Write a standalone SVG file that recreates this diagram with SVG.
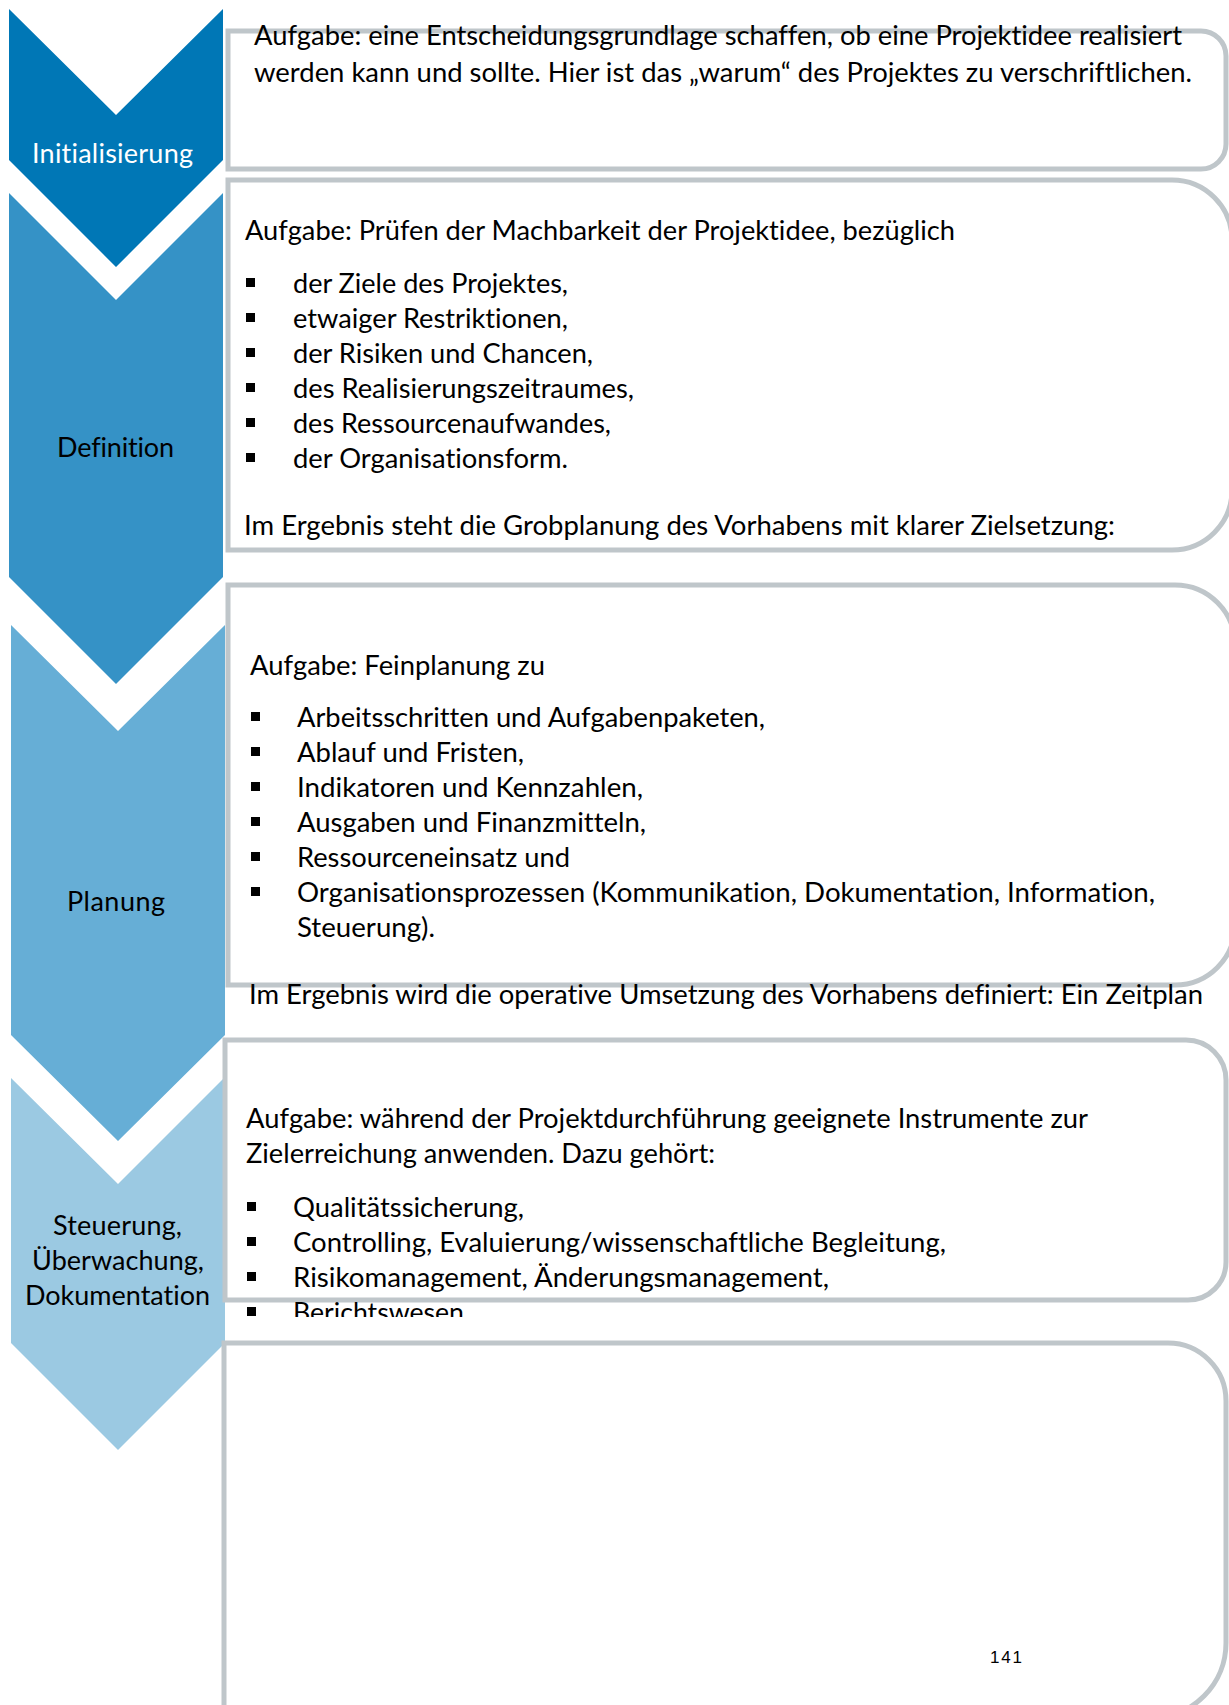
<svg xmlns="http://www.w3.org/2000/svg" width="1229" height="1705" viewBox="0 0 1229 1705">
  <style>
    .box { fill: #ffffff; stroke: #bfc6ca; stroke-width: 5; }
    .txt { font-family: Lato, "Open Sans", sans-serif; font-size: 26px; fill: #000000; font-variant-ligatures: none; }
    .lbl { font-family: Lato, "Open Sans", sans-serif; font-size: 27px; fill: #000000; text-anchor: middle; font-variant-ligatures: none; }
    .lbl-w { fill: #ffffff; }
    .bul { fill: #000000; }
    .pg { font-family: "Liberation Sans", Arial, sans-serif; font-size: 17px; fill: #000000; }
  </style>
  <defs>
    <clipPath id="clip-def"><rect x="0" y="0" width="1229" height="553"/></clipPath>
    <clipPath id="clip-steu"><rect x="0" y="0" width="1229" height="1317"/></clipPath>
  </defs>
  <rect width="1229" height="1705" fill="#ffffff"/>

  <!-- phase chevrons -->
  <g id="phase-initialisierung">
    <polygon points="9,9 116,115 223,9 223,160 116,267 9,160" fill="#0077b6"/>
    <text class="lbl lbl-w" x="112.5" y="163" textLength="161">Initialisierung</text>
  </g>
  <g id="phase-definition">
    <polygon points="9,193 116,300 223,193 223,577 116,684 9,577" fill="#3592c6"/>
    <text class="lbl" x="115.5" y="457" textLength="117">Definition</text>
  </g>
  <g id="phase-planung">
    <polygon points="11,625 118,731 225,625 225,1035 118,1141 11,1035" fill="#66aed6"/>
    <text class="lbl" x="116" y="911" textLength="98">Planung</text>
  </g>
  <g id="phase-steuerung">
    <polygon points="11,1078 118,1184 225,1077 225,1343 118,1450 11,1343" fill="#9bc9e2"/>
    <text class="lbl" x="117.5" y="1235" textLength="129">Steuerung,</text>
    <text class="lbl" x="118" y="1270" textLength="172">Überwachung,</text>
    <text class="lbl" x="117.5" y="1305" textLength="185">Dokumentation</text>
  </g>

  <!-- description boxes -->
  <g id="box-initialisierung">
    <path class="box" d="M228,31 H1201 A25,25 0 0 1 1226,56 V144 A25,25 0 0 1 1201,169 H228 Z"/>
    <text class="txt" x="254" y="45" textLength="928" lengthAdjust="spacingAndGlyphs">Aufgabe: eine Entscheidungsgrundlage schaffen, ob eine Projektidee realisiert</text>
    <text class="txt" x="254" y="82" textLength="938" lengthAdjust="spacingAndGlyphs">werden kann und sollte. Hier ist das „warum“ des Projektes zu verschriftlichen.</text>
  </g>

  <g id="box-definition">
    <path class="box" d="M228,180 H1172 A60,60 0 0 1 1232,240 V490 A60,60 0 0 1 1172,550 H228 Z"/>
    <g clip-path="url(#clip-def)">
      <text class="txt" x="245" y="240" textLength="710" lengthAdjust="spacingAndGlyphs">Aufgabe: Prüfen der Machbarkeit der Projektidee, bezüglich</text>
      <rect class="bul" x="246" y="278" width="9" height="9"/>
      <text class="txt" x="293" y="293" textLength="275" lengthAdjust="spacingAndGlyphs">der Ziele des Projektes,</text>
      <rect class="bul" x="246" y="313" width="9" height="9"/>
      <text class="txt" x="293" y="328" textLength="275" lengthAdjust="spacingAndGlyphs">etwaiger Restriktionen,</text>
      <rect class="bul" x="246" y="348" width="9" height="9"/>
      <text class="txt" x="293" y="363" textLength="300" lengthAdjust="spacingAndGlyphs">der Risiken und Chancen,</text>
      <rect class="bul" x="246" y="383" width="9" height="9"/>
      <text class="txt" x="293" y="398" textLength="341" lengthAdjust="spacingAndGlyphs">des Realisierungszeitraumes,</text>
      <rect class="bul" x="246" y="418" width="9" height="9"/>
      <text class="txt" x="293" y="433" textLength="318" lengthAdjust="spacingAndGlyphs">des Ressourcenaufwandes,</text>
      <rect class="bul" x="246" y="453" width="9" height="9"/>
      <text class="txt" x="293" y="468" textLength="275" lengthAdjust="spacingAndGlyphs">der Organisationsform.</text>
      <text class="txt" x="244" y="535" textLength="871" lengthAdjust="spacingAndGlyphs">Im Ergebnis steht die Grobplanung des Vorhabens mit klarer Zielsetzung:</text>
    </g>
  </g>

  <g id="box-planung">
    <path class="box" d="M228,585 H1175 A60,60 0 0 1 1235,645 V925 A60,60 0 0 1 1175,985 H228 Z"/>
    <text class="txt" x="250" y="675" textLength="295" lengthAdjust="spacingAndGlyphs">Aufgabe: Feinplanung zu</text>
    <rect class="bul" x="251" y="712" width="9" height="9"/>
    <text class="txt" x="297" y="727" textLength="468" lengthAdjust="spacingAndGlyphs">Arbeitsschritten und Aufgabenpaketen,</text>
    <rect class="bul" x="251" y="747" width="9" height="9"/>
    <text class="txt" x="297" y="762" textLength="227" lengthAdjust="spacingAndGlyphs">Ablauf und Fristen,</text>
    <rect class="bul" x="251" y="782" width="9" height="9"/>
    <text class="txt" x="297" y="797" textLength="346" lengthAdjust="spacingAndGlyphs">Indikatoren und Kennzahlen,</text>
    <rect class="bul" x="251" y="817" width="9" height="9"/>
    <text class="txt" x="297" y="832" textLength="349" lengthAdjust="spacingAndGlyphs">Ausgaben und Finanzmitteln,</text>
    <rect class="bul" x="251" y="852" width="9" height="9"/>
    <text class="txt" x="297" y="867" textLength="273" lengthAdjust="spacingAndGlyphs">Ressourceneinsatz und</text>
    <rect class="bul" x="251" y="887" width="9" height="9"/>
    <text class="txt" x="297" y="902" textLength="858" lengthAdjust="spacingAndGlyphs">Organisationsprozessen (Kommunikation, Dokumentation, Information,</text>
    <text class="txt" x="297" y="937" textLength="138" lengthAdjust="spacingAndGlyphs">Steuerung).</text>
    <text class="txt" x="249" y="1004" textLength="954" lengthAdjust="spacingAndGlyphs">Im Ergebnis wird die operative Umsetzung des Vorhabens definiert: Ein Zeitplan</text>
  </g>

  <g id="box-steuerung">
    <path class="box" d="M225,1040 H1186 A40,40 0 0 1 1226,1080 V1262 A38,38 0 0 1 1188,1300 H225 Z"/>
    <g clip-path="url(#clip-steu)">
      <text class="txt" x="246" y="1128" textLength="842" lengthAdjust="spacingAndGlyphs">Aufgabe: während der Projektdurchführung geeignete Instrumente zur</text>
      <text class="txt" x="246" y="1163" textLength="469" lengthAdjust="spacingAndGlyphs">Zielerreichung anwenden. Dazu gehört:</text>
      <rect class="bul" x="247" y="1202" width="9" height="9"/>
      <text class="txt" x="293" y="1217" textLength="231" lengthAdjust="spacingAndGlyphs">Qualitätssicherung,</text>
      <rect class="bul" x="247" y="1237" width="9" height="9"/>
      <text class="txt" x="293" y="1252" textLength="653" lengthAdjust="spacingAndGlyphs">Controlling, Evaluierung/wissenschaftliche Begleitung,</text>
      <rect class="bul" x="247" y="1272" width="9" height="9"/>
      <text class="txt" x="293" y="1287" textLength="536" lengthAdjust="spacingAndGlyphs">Risikomanagement, Änderungsmanagement,</text>
      <rect class="bul" x="247" y="1307" width="9" height="9"/>
      <text class="txt" x="293" y="1322" textLength="171" lengthAdjust="spacingAndGlyphs">Berichtswesen</text>
    </g>
  </g>

  <g id="box-abschluss">
    <path class="box" d="M224,1343 H1168 A58,58 0 0 1 1226,1401 V1643 A75,75 0 0 1 1151,1718 H224 Z"/>
    <text class="pg" x="990" y="1663" textLength="32">141</text>
  </g>
</svg>
